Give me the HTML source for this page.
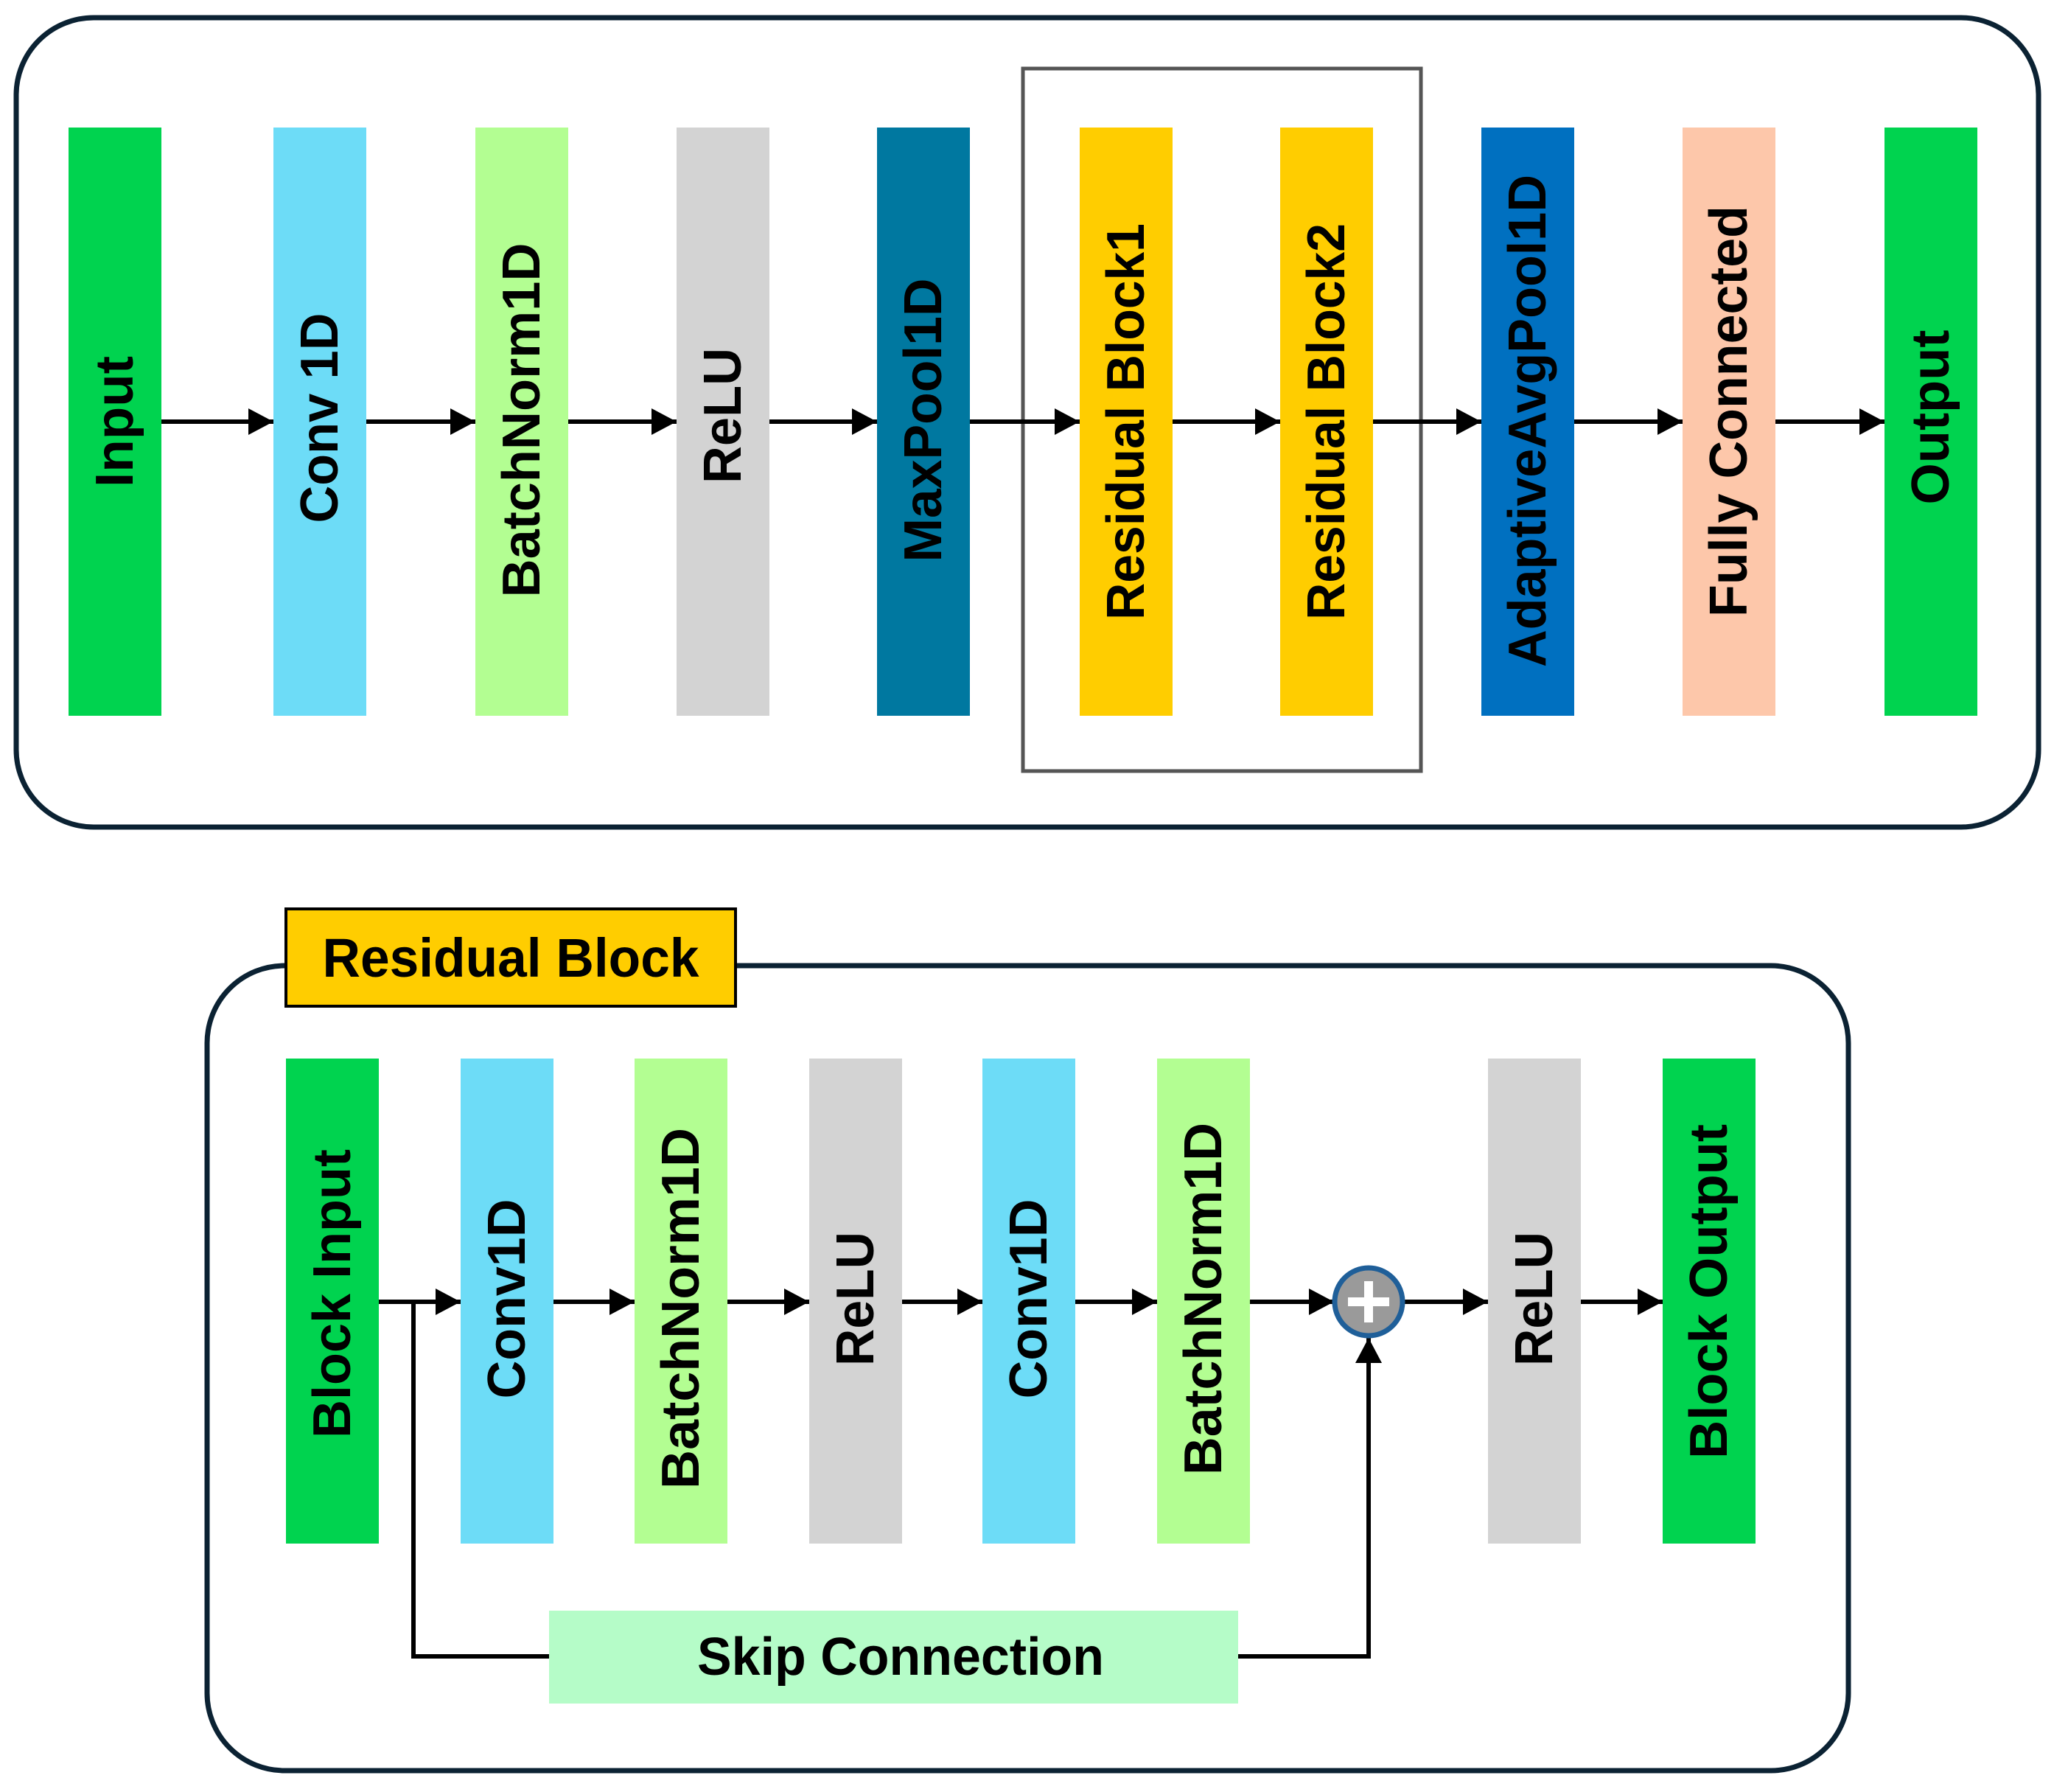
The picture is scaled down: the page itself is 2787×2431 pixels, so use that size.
<!DOCTYPE html>
<html><head><meta charset="utf-8"><style>
html,body{margin:0;padding:0;background:#fff}
svg{display:block}
text{font-family:"Liberation Sans",Arial,sans-serif;font-weight:bold;fill:#000}
</style></head><body>
<svg width="2787" height="2431" viewBox="0 0 2787 2431" xmlns="http://www.w3.org/2000/svg">
<defs>
<marker id="ah" markerWidth="38" markerHeight="38" refX="34" refY="18" orient="auto" markerUnits="userSpaceOnUse">
<path d="M0,0 L34,18 L0,36 Z" fill="#000"/>
</marker>
</defs>
<!-- Top section -->
<rect x="22" y="24" width="2744" height="1098" rx="105" ry="105" fill="#fff" stroke="#0b2233" stroke-width="7"/>
<rect x="1388" y="93" width="540" height="953" fill="none" stroke="#555" stroke-width="5"/>
<g>
<rect x="93" y="173" width="126" height="798" fill="#00d34f"/>
<rect x="371" y="173" width="126" height="798" fill="#6ddcf7"/>
<rect x="645" y="173" width="126" height="798" fill="#b3fe92"/>
<rect x="918" y="173" width="126" height="798" fill="#d3d3d3"/>
<rect x="1190" y="173" width="126" height="798" fill="#0078a0"/>
<rect x="1465" y="173" width="126" height="798" fill="#ffcd00"/>
<rect x="1737" y="173" width="126" height="798" fill="#ffcd00"/>
<rect x="2010" y="173" width="126" height="798" fill="#0070c0"/>
<rect x="2283" y="173" width="126" height="798" fill="#fdc7aa"/>
<rect x="2557" y="173" width="126" height="798" fill="#00d34f"/>
</g>
<g font-size="72" text-anchor="middle" dominant-baseline="central">
<text transform="translate(156,572) rotate(-90)" textLength="178" lengthAdjust="spacingAndGlyphs">Input</text>
<text transform="translate(434,567) rotate(-90)" textLength="285" lengthAdjust="spacingAndGlyphs">Conv 1D</text>
<text transform="translate(708,570) rotate(-90)" textLength="481" lengthAdjust="spacingAndGlyphs">BatchNorm1D</text>
<text transform="translate(981,564) rotate(-90)" textLength="184" lengthAdjust="spacingAndGlyphs">ReLU</text>
<text transform="translate(1253,570) rotate(-90)" textLength="385" lengthAdjust="spacingAndGlyphs">MaxPool1D</text>
<text transform="translate(1528,572) rotate(-90)" textLength="538" lengthAdjust="spacingAndGlyphs">Residual Block1</text>
<text transform="translate(1800,572) rotate(-90)" textLength="538" lengthAdjust="spacingAndGlyphs">Residual Block2</text>
<text transform="translate(2073,571) rotate(-90)" textLength="668" lengthAdjust="spacingAndGlyphs">AdaptiveAvgPool1D</text>
<text transform="translate(2346,558) rotate(-90)" textLength="558" lengthAdjust="spacingAndGlyphs">Fully Connected</text>
<text transform="translate(2620,566) rotate(-90)" textLength="237" lengthAdjust="spacingAndGlyphs">Output</text>
</g>
<g stroke="#000" stroke-width="6" marker-end="url(#ah)">
<line x1="219" y1="572" x2="371" y2="572"/>
<line x1="497" y1="572" x2="645" y2="572"/>
<line x1="771" y1="572" x2="918" y2="572"/>
<line x1="1044" y1="572" x2="1190" y2="572"/>
<line x1="1316" y1="572" x2="1465" y2="572"/>
<line x1="1591" y1="572" x2="1737" y2="572"/>
<line x1="1863" y1="572" x2="2010" y2="572"/>
<line x1="2136" y1="572" x2="2283" y2="572"/>
<line x1="2409" y1="572" x2="2557" y2="572"/>
</g>
<!-- Bottom section -->
<rect x="281" y="1310" width="2227" height="1092" rx="105" ry="105" fill="#fff" stroke="#0b2233" stroke-width="7"/>
<rect x="388" y="1233" width="610" height="132" fill="#ffcd00" stroke="#000" stroke-width="4"/>
<text x="693" y="1325" font-size="74" text-anchor="middle" textLength="511" lengthAdjust="spacingAndGlyphs">Residual Block</text>
<g>
<rect x="388" y="1436" width="126" height="658" fill="#00d34f"/>
<rect x="625" y="1436" width="126" height="658" fill="#6ddcf7"/>
<rect x="861" y="1436" width="126" height="658" fill="#b3fe92"/>
<rect x="1098" y="1436" width="126" height="658" fill="#d3d3d3"/>
<rect x="1333" y="1436" width="126" height="658" fill="#6ddcf7"/>
<rect x="1570" y="1436" width="126" height="658" fill="#b3fe92"/>
<rect x="2019" y="1436" width="126" height="658" fill="#d3d3d3"/>
<rect x="2256" y="1436" width="126" height="658" fill="#00d34f"/>
</g>
<g font-size="72" text-anchor="middle" dominant-baseline="central">
<text transform="translate(451,1755) rotate(-90)" textLength="392" lengthAdjust="spacingAndGlyphs">Block Input</text>
<text transform="translate(688,1762) rotate(-90)" textLength="271" lengthAdjust="spacingAndGlyphs">Conv1D</text>
<text transform="translate(924,1775) rotate(-90)" textLength="490" lengthAdjust="spacingAndGlyphs">BatchNorm1D</text>
<text transform="translate(1161,1762) rotate(-90)" textLength="182" lengthAdjust="spacingAndGlyphs">ReLU</text>
<text transform="translate(1396,1762) rotate(-90)" textLength="271" lengthAdjust="spacingAndGlyphs">Conv1D</text>
<text transform="translate(1633,1762) rotate(-90)" textLength="478" lengthAdjust="spacingAndGlyphs">BatchNorm1D</text>
<text transform="translate(2082,1762) rotate(-90)" textLength="182" lengthAdjust="spacingAndGlyphs">ReLU</text>
<text transform="translate(2319,1752) rotate(-90)" textLength="454" lengthAdjust="spacingAndGlyphs">Block Output</text>
</g>
<g stroke="#000" stroke-width="6" marker-end="url(#ah)">
<line x1="514" y1="1766" x2="625" y2="1766"/>
<line x1="751" y1="1766" x2="861" y2="1766"/>
<line x1="987" y1="1766" x2="1098" y2="1766"/>
<line x1="1224" y1="1766" x2="1333" y2="1766"/>
<line x1="1459" y1="1766" x2="1570" y2="1766"/>
<line x1="1696" y1="1766" x2="1810" y2="1766"/>
<line x1="1905" y1="1766" x2="2019" y2="1766"/>
<line x1="2145" y1="1766" x2="2256" y2="1766"/>
<line x1="1857" y1="2247" x2="1857" y2="1815"/>
</g>
<polyline points="561,1766 561,2247 745,2247" fill="none" stroke="#000" stroke-width="6"/>
<line x1="1680" y1="2247" x2="1860" y2="2247" stroke="#000" stroke-width="6"/>
<rect x="745" y="2185" width="935" height="126" fill="#b5fcc8"/>
<text x="1222" y="2272" font-size="72" text-anchor="middle" textLength="552" lengthAdjust="spacingAndGlyphs">Skip Connection</text>
<circle cx="1857" cy="1766" r="46" fill="#9a9a9a" stroke="#1f5f99" stroke-width="7"/>
<rect x="1851" y="1738" width="12" height="56" fill="#fff"/>
<rect x="1829" y="1760" width="56" height="12" fill="#fff"/>
</svg>
</body></html>
